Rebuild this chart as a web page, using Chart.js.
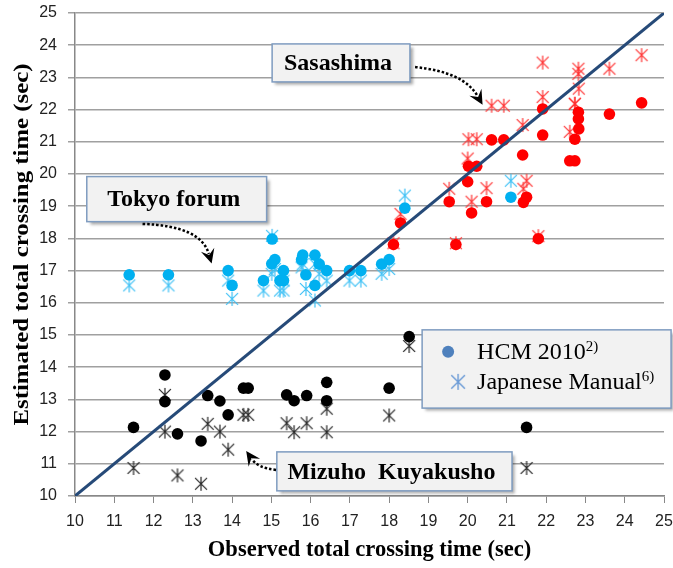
<!DOCTYPE html>
<html><head><meta charset="utf-8">
<script src="https://cdn.jsdelivr.net/npm/chart.js@4.4.1/dist/chart.umd.min.js"></script>
<style>html,body{margin:0;padding:0;background:#fff}#wrap{width:673px;height:568px}</style>
</head><body><div id="wrap"><canvas id="c" width="673" height="568"></canvas></div>
<script>
// ---- Data (observed x, HCM 2010 estimate, Japanese Manual estimate) ----
const tokyoObs = [11.38,12.38,13.90,14.00,14.80,15.02,15.09,15.01,15.22,15.31,15.31,15.80,15.77,16.11,16.22,16.41,15.88,16.11,16.99,17.28,17.81,18.00,18.40,21.10];
const tokyoHCM = [16.87,16.87,17.00,16.54,16.69,17.98,17.34,17.21,16.69,17.00,16.69,17.48,17.34,17.48,17.20,17.00,16.87,16.54,17.00,17.00,17.20,17.34,18.94,19.28];
const tokyoJM  = [16.54,16.54,16.69,16.12,16.38,18.08,17.05,16.90,16.38,16.69,16.38,17.20,17.10,17.20,16.90,16.69,16.43,16.07,16.69,16.69,16.90,17.05,19.33,19.79];

const sasaObs = [18.11,18.29,19.70,19.53,20.00,20.02,20.23,20.10,20.48,20.61,20.92,21.40,21.42,21.50,21.80,21.91,21.91,22.60,22.73,22.82,22.82,22.83,22.73,23.61,24.43];
const sasaHCM = [17.81,18.48,17.81,19.14,19.76,20.24,20.24,18.79,19.14,21.06,21.06,20.59,19.12,19.28,17.99,22.02,21.21,20.41,20.41,21.92,21.71,21.40,21.08,21.86,22.21];
const sasaJM  = [17.85,18.76,17.85,19.54,20.48,21.08,21.08,19.14,19.56,22.12,22.12,21.52,19.54,19.79,18.07,23.46,22.39,21.31,22.18,23.27,23.11,22.65,22.18,23.27,23.69];

const mizuObs = [11.49,12.29,12.29,12.61,13.21,13.38,13.69,13.90,14.29,14.41,15.39,15.58,15.90,16.41,16.41,18.00,18.51,21.50];
const mizuHCM = [12.13,13.76,12.93,11.93,11.71,13.12,12.95,12.52,13.35,13.35,13.14,12.96,13.12,13.53,12.96,13.35,14.95,12.13];
const mizuJM  = [10.87,13.14,12.00,10.64,10.38,12.24,12.00,11.44,12.52,12.52,12.26,11.98,12.26,12.71,11.98,12.50,14.66,10.87];

const diagonal = [10, 25];
const tickValues = [10,11,12,13,14,15,16,17,18,19,20,21,22,23,24,25];

const xTitle = 'Observed total crossing time (sec)';
const yTitle = 'Estimated total crossing time (sec)';
const legendLabels = [['HCM 2010','2)'],['Japanese Manual','6)']];
const siteLabels = ['Sasashima','Tokyo forum','Mizuho  Kuyakusho'];

// ---- helpers ----
function asterisk(color, r, lw){
  const s = 2*r+4, c = document.createElement('canvas');
  c.width = s; c.height = s;
  const g = c.getContext('2d'), m = s/2, d = r*0.85;
  g.strokeStyle = color; g.lineWidth = lw;
  g.beginPath();
  g.moveTo(m, m-r); g.lineTo(m, m+r);
  g.moveTo(m-d, m-d); g.lineTo(m+d, m+d);
  g.moveTo(m+d, m-d); g.lineTo(m-d, m+d);
  g.stroke();
  return c;
}
const pts = (xs, ys) => xs.map((x,i)=>({x, y: ys[i]}));

function dotSet(label, xs, ys, color){
  return {type:'scatter', label, data: pts(xs,ys), pointStyle:'circle', pointRadius:5.8,
    backgroundColor: color, borderColor: color, borderWidth:0, order:1};
}
function starSet(label, xs, ys, color){
  return {type:'scatter', label, data: pts(xs,ys), pointStyle: asterisk(color, 7, 1.2),
    pointRadius:7, backgroundColor: color, borderColor: color, order:2};
}

// ---- annotations ----
const notesPlugin = {
  id: 'notes',
  afterDatasetsDraw(chart){
    const ctx = chart.ctx, X = chart.scales.x, Y = chart.scales.y;
    const px = v => X.getPixelForValue(v), py = v => Y.getPixelForValue(v);

    function box(x0,y0,x1,y1){
      const a = px(x0), b = py(y0), w = px(x1)-a, h = py(y1)-b;
      ctx.save();
      ctx.shadowColor = 'rgba(0,0,0,0.35)'; ctx.shadowOffsetX = 3; ctx.shadowOffsetY = 3; ctx.shadowBlur = 3;
      ctx.fillStyle = '#F2F2F2'; ctx.fillRect(a,b,w,h);
      ctx.restore();
      ctx.save(); ctx.strokeStyle = '#7F9CC0'; ctx.lineWidth = 1.5; ctx.strokeRect(a,b,w,h); ctx.restore();
      return {a,b,w,h};
    }
    function label(text, r){
      ctx.save(); ctx.font = 'bold 24px "Liberation Serif"'; ctx.fillStyle = '#000';
      ctx.textAlign = 'center'; ctx.textBaseline = 'middle';
      ctx.fillText(text, r.a + r.w/2 - 3, r.b + r.h/2 + 1); ctx.restore();
    }
    function arrow(sx,sy,cx,cy,ex,ey){
      const s=[px(sx),py(sy)], c=[px(cx),py(cy)], e=[px(ex),py(ey)];
      const ang = Math.atan2(e[1]-c[1], e[0]-c[0]);
      const back = 10;
      const eb = [e[0]-Math.cos(ang)*back, e[1]-Math.sin(ang)*back];
      ctx.save();
      ctx.strokeStyle = '#000'; ctx.lineWidth = 2.5; ctx.setLineDash([2.5,2]);
      ctx.beginPath(); ctx.moveTo(s[0],s[1]); ctx.quadraticCurveTo(c[0],c[1],eb[0],eb[1]); ctx.stroke();
      ctx.setLineDash([]);
      const L = 16, sp = 0.45;
      ctx.fillStyle = '#000';
      ctx.beginPath();
      ctx.moveTo(e[0],e[1]);
      ctx.lineTo(e[0]-L*Math.cos(ang-sp), e[1]-L*Math.sin(ang-sp));
      ctx.lineTo(e[0]-9*Math.cos(ang), e[1]-9*Math.sin(ang));
      ctx.lineTo(e[0]-L*Math.cos(ang+sp), e[1]-L*Math.sin(ang+sp));
      ctx.closePath(); ctx.fill();
      ctx.restore();
    }

    // Sasashima
    label(siteLabels[0], box(15.02,24.04,18.53,22.86));
    arrow(18.66,23.32, 19.90,23.17, 20.38,22.15);
    // Tokyo forum
    label(siteLabels[1], box(10.30,19.92,14.88,18.52));
    arrow(11.72,18.45, 13.20,18.39, 13.48,17.22);
    // Mizuho
    label(siteLabels[2], box(15.14,11.37,21.13,10.16));
    arrow(15.12,10.81, 14.66,10.87, 14.36,11.40);

    // Legend
    const r = box(18.84,15.16,25.18,12.73);
    const lx = r.a + 26, y1 = r.b + 22, y2 = r.b + 52;
    ctx.save();
    ctx.fillStyle = '#4F81BD';
    ctx.beginPath(); ctx.arc(lx, y1, 6, 0, Math.PI*2); ctx.fill();
    ctx.drawImage(asterisk('#6A9AD6', 8, 1.4), lx, y2-10);
    ctx.fillStyle = '#000'; ctx.textBaseline = 'middle'; ctx.textAlign = 'left';
    [[legendLabels[0], y1],[legendLabels[1], y2]].forEach(([t, yy])=>{
      ctx.font = '24px "Liberation Serif"';
      ctx.fillText(t[0], r.a + 55, yy + 1);
      const w = ctx.measureText(t[0]).width;
      ctx.font = '15px "Liberation Serif"';
      ctx.fillText(t[1], r.a + 55 + w, yy - 5);
    });
    ctx.restore();

    // Y-axis title (stretched, as in the source image)
    ctx.save();
    ctx.translate(22, (Y.top + Y.bottom)/2 - 10);
    ctx.rotate(-Math.PI/2);
    ctx.font = 'bold 22px "Liberation Serif"';
    const tw = ctx.measureText(yTitle).width;
    ctx.scale(362/tw, 1);
    ctx.fillStyle = '#000'; ctx.textAlign = 'center'; ctx.textBaseline = 'middle';
    ctx.fillText(yTitle, 0, 0);
    ctx.restore();
  }
};

const tickFont = {family:'"Liberation Sans"', size:16};
const titleFont = {family:'"Liberation Serif"', size:22.5, weight:'bold'};

new Chart(document.getElementById('c'), {
  data: {
    datasets: [
      {type:'line', label:'y=x', data: pts(diagonal, diagonal), borderColor:'#264A78', borderWidth:3,
        pointRadius:0, fill:false, order:0},
      dotSet('Sasashima HCM', sasaObs, sasaHCM, '#FF0000'),
      dotSet('Tokyo HCM', tokyoObs, tokyoHCM, '#00B0F0'),
      dotSet('Mizuho HCM', mizuObs, mizuHCM, '#000000'),
      starSet('Sasashima JM', sasaObs, sasaJM, '#FF3030'),
      starSet('Tokyo JM', tokyoObs, tokyoJM, '#3CC0F5'),
      starSet('Mizuho JM', mizuObs, mizuJM, '#222222'),
    ]
  },
  options: {
    responsive:false, animation:false, devicePixelRatio:1,
    layout:{padding:{top:13, right:9, left:0, bottom:0}},
    plugins:{legend:{display:false}, tooltip:{enabled:false}},
    scales:{
      x:{type:'linear', min:10, max:25,
        afterBuildTicks: s => { s.ticks = tickValues.map(v=>({value:v})); },
        afterFit: s => { s.height = 72; s.paddingLeft = 0; s.paddingRight = 0; },
        ticks:{font:tickFont, color:'#222', padding:9, maxRotation:0},
        grid:{drawOnChartArea:false, color:'#888', tickLength:7},
        border:{color:'#888', width:1.5},
        title:{display:true, text:xTitle, font:titleFont, color:'#000', padding:{top:4, bottom:4}}
      },
      y:{type:'linear', min:10, max:25,
        afterBuildTicks: s => { s.ticks = tickValues.map(v=>({value:v})); },
        afterFit: s => { s.width = 75; s.paddingTop = 0; s.paddingBottom = 0; },
        ticks:{font:tickFont, color:'#222', padding:11},
        grid:{color:'#A0A0A0', lineWidth:1.5, tickLength:7},
        border:{color:'#888', width:1.5},
        title:{display:false}
      }
    }
  },
  plugins:[notesPlugin]
});
</script></body></html>
